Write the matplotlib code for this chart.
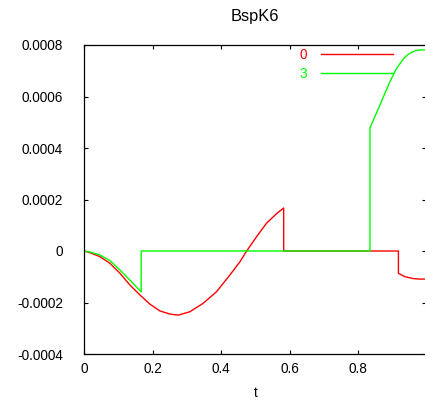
import matplotlib
matplotlib.use("Agg")
import matplotlib.pyplot as plt

plt.rcParams["font.family"] = ["Liberation Sans", "DejaVu Sans"]
plt.rcParams["font.size"] = 9.8

# values
t0 = [0.0, 0.0175, 0.0467, 0.0759, 0.105, 0.134, 0.1635, 0.193, 0.222, 0.251,
      0.275, 0.309, 0.348, 0.387, 0.426, 0.4555, 0.475, 0.504, 0.533, 0.563,
      0.583, 0.583, 0.918, 0.918, 0.937, 0.961, 0.98, 1.0]
v0 = [0.0, -0.0000066, -0.000022, -0.000048, -0.0000866, -0.000132, -0.000171,
      -0.000207, -0.000233, -0.000245, -0.000249, -0.000236, -0.000203,
      -0.000158, -0.0000932, -0.0000414, 0.0, 0.0000557, 0.000108, 0.000146,
      0.000167, 0.0, 0.0, -0.0000866, -0.0000998, -0.000107, -0.000109,
      -0.000109]

t3 = [0.0, 0.0175, 0.0467, 0.0759, 0.105, 0.134, 0.1635, 0.167, 0.167, 0.835,
      0.835, 0.864, 0.893, 0.913, 0.932, 0.945, 0.957, 0.969, 0.981, 1.0]
v3 = [0.0, -0.0000039, -0.0000155, -0.0000375, -0.0000738, -0.000113,
      -0.000154, -0.000159, 0.0, 0.0, 0.000478, 0.000567, 0.000657, 0.000710,
      0.000745, 0.000762, 0.000772, 0.000778, 0.000781, 0.000781]

yticks = [-0.0004, -0.0002, 0, 0.0002, 0.0004, 0.0006, 0.0008]
ylabels = ["-0.0004", "-0.0002", "0", "0.0002", "0.0004", "0.0006", "0.0008"]
xticks = [0, 0.2, 0.4, 0.6, 0.8]
xlabels = ["0", "0.2", "0.4", "0.6", "0.8"]

fig = plt.figure(figsize=(4.25, 4.01), dpi=100)
ax = fig.add_axes([84 / 425, 47 / 401, 342.5 / 425, 309 / 401])

ax.plot(t0, v0, color="#ff0000", lw=1.0, label="0")
ax.plot(t3, v3, color="#00ff00", lw=1.0, label="3")

ax.set_xlim(0, 1.0)
ax.set_ylim(-0.0004, 0.0008)
ax.set_xticks(xticks, labels=xlabels)
ax.set_yticks(yticks, labels=ylabels)
ax.tick_params(direction="in", length=3, width=0.8, top=True, right=True)
ax.tick_params(axis="y", pad=15)
ax.tick_params(axis="x", pad=6)
for s in ax.spines.values():
    s.set_linewidth(0.9)

ax.set_title("BspK6", pad=17)
ax.set_xlabel("t", labelpad=7)

leg = ax.legend(loc="upper right", bbox_to_anchor=(309 / 342.5, 0.99),
                frameon=False, markerfirst=False, handlelength=5.3,
                handletextpad=1.0, labelspacing=0.35, borderpad=0,
                borderaxespad=0)
for txt, line in zip(leg.get_texts(), leg.get_lines()):
    txt.set_color(line.get_color())

fig.savefig("out.png", dpi=100)
